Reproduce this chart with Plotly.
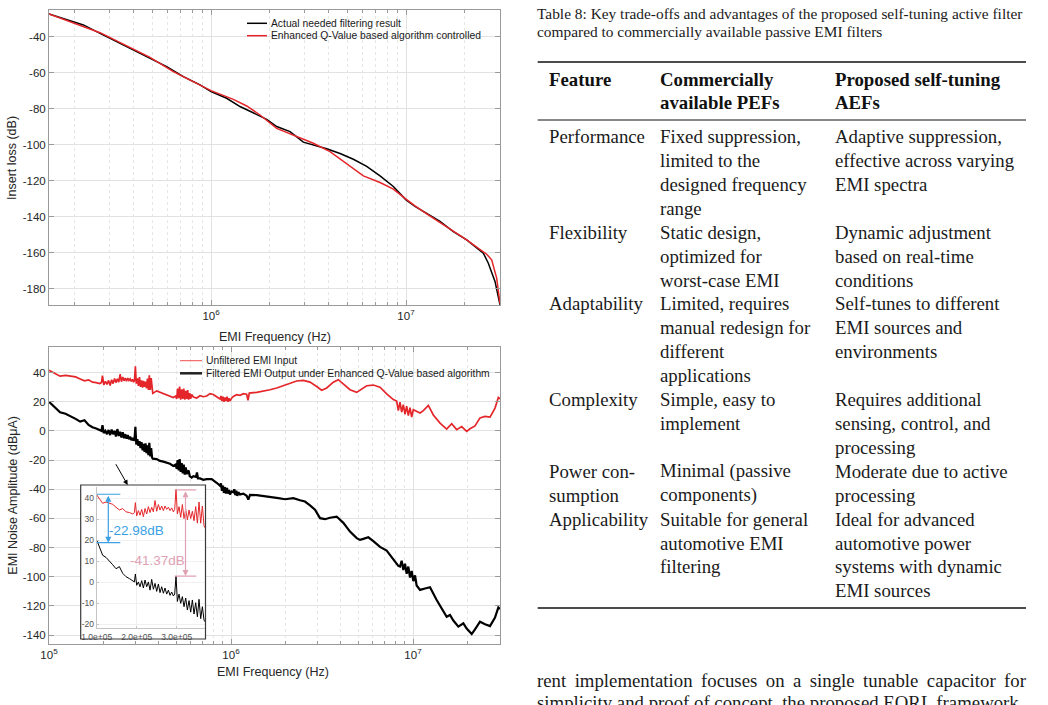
import math
import plotly.graph_objects as go

W, H = 1048, 705


def px(x):
    return x / W


def py(y):
    return 1 - y / H


# ---------------- Data: top plot (insertion loss) ----------------
top_black_freq = [147.6e3, 181.9e3, 221.4e3, 269.7e3, 328.2e3, 399.7e3, 486.6e3, 592.3e3, 721.3e3,
                  878.3e3, 1.0e6, 1.203e6, 1.408e6, 1.649e6, 1.930e6, 2.172e6, 2.542e6, 2.975e6,
                  3.349e6, 3.919e6, 4.587e6, 5.370e6, 6.285e6, 7.357e6, 8.610e6, 1.0e7, 1.112e7,
                  1.277e7, 1.494e7, 1.749e7, 2.047e7, 2.492e7, 2.643e7, 2.860e7, 3.034e7]
top_black_db = [-27.4, -30.4, -33.5, -38.2, -42.8, -47.8, -52.0, -56.6, -62.2, -66.8, -70.5, -74.2,
                -78.8, -82.2, -85.9, -89.9, -92.7, -98.6, -100.2, -102.2, -104.9, -108.1, -112.0,
                -117.3, -123.2, -130.6, -134.3, -138.0, -142.6, -148.2, -152.8, -160.2, -165.8,
                -175.9, -188.9]

top_red_freq = [147.6e3, 269.7e3, 486.6e3, 640.9e3, 1.0e6, 1.302e6, 1.524e6, 1.784e6, 2.172e6,
                2.644e6, 3.349e6, 4.076e6, 4.963e6, 6.043e6, 7.357e6, 8.610e6, 1.0e7, 1.112e7,
                1.277e7, 1.494e7, 1.749e7, 2.047e7, 2.592e7, 2.750e7, 2.917e7, 3.034e7]
top_red_db = [-27.4, -37.8, -51.5, -59.4, -70.0, -74.8, -78.5, -83.5, -90.9, -94.6, -99.2, -103.8,
              -110.3, -117.3, -121.0, -124.7, -130.2, -134.0, -138.4, -143.2, -148.2, -152.8,
              -160.8, -163.9, -174.1, -188.3]

# ---------------- Data: bottom plot, zoomed region (1e5 .. 3.72e5 Hz) ----------------
zoom_freq = [100.0e3, 106.7e3, 115.0e3, 123.3e3, 131.7e3, 140.0e3, 148.3e3, 156.7e3, 165.0e3,
             173.3e3, 181.7e3, 190.0e3, 194.2e3, 196.7e3, 200.0e3, 204.2e3, 208.3e3, 212.5e3,
             216.7e3, 220.8e3, 225.0e3, 229.2e3, 233.3e3, 237.5e3, 241.7e3, 245.8e3, 250.0e3,
             254.2e3, 258.3e3, 262.5e3, 266.7e3, 270.8e3, 275.0e3, 279.2e3, 283.3e3, 287.5e3,
             291.7e3, 295.0e3, 298.3e3, 301.7e3, 305.8e3, 310.0e3, 314.2e3, 318.3e3, 322.5e3,
             326.7e3, 330.8e3, 335.0e3, 339.2e3, 343.3e3, 347.5e3, 351.7e3, 355.8e3, 360.0e3,
             364.2e3, 368.3e3, 371.7e3]
zoom_red_db = [41.6, 40.0, 37.6, 38.2, 37.6, 37.1, 35.7, 34.4, 35.1, 33.5, 33.2, 32.5, 33.2, 37.9,
               31.6, 34.1, 31.9, 34.7, 31.2, 35.1, 32.5, 36.0, 33.2, 35.7, 33.5, 38.9, 33.8, 37.0,
               34.4, 36.3, 34.1, 36.3, 34.7, 35.7, 34.1, 35.4, 33.5, 34.7, 44.3, 32.5, 36.0, 30.9,
               37.0, 30.3, 34.7, 29.7, 34.4, 30.3, 33.8, 29.3, 36.0, 28.1, 38.2, 28.1, 36.3, 26.8,
               25.8]
zoom_black_db = [20.1, 16.6, 12.8, 11.8, 10.2, 8.3, 6.4, 7.4, 4.2, 2.6, 1.7, 0.7, 0.1, 3.9, -1.5,
                 0.1, -2.2, 0.7, -2.8, 1.0, -2.2, 0.1, -3.8, 1.3, -3.4, -0.6, -4.4, -0.9, -5.0,
                 -2.2, -5.3, -2.8, -5.7, -3.8, -6.3, -4.7, -6.6, -5.7, 2.9, -9.2, -5.7, -10.1,
                 -6.9, -11.7, -7.6, -13.3, -8.8, -14.3, -8.5, -15.2, -9.8, -16.5, -8.2, -17.4,
                 -11.7, -18.1, -19.0]

# ---------------- Data: bottom plot, remaining range (3.9e5 .. 3e7 Hz) ----------------
red_freq = [390.5e3, 407e3, 425e3, 443e3, 462e3, 482e3, 497e3, 503e3, 509e3, 516e3, 522e3, 529e3,
            536e3, 543e3, 550e3, 557e3, 564e3, 571e3, 578e3, 585e3, 593e3, 600e3, 608e3, 621e3,
            648e3, 676e3, 705e3, 735e3, 767e3, 800e3, 834e3, 870e3, 881e3, 892e3, 904e3, 915e3,
            927e3, 939e3, 951e3, 963e3, 975e3, 987e3, 1008e3, 1030e3, 1074e3, 1121e3, 1169e3,
            1219e3, 1240e3, 1261e3, 1384e3, 1506e3, 1638e3, 1782e3, 1939e3, 2110e3, 2295e3,
            2497e3, 2717e3, 2956e3, 3149e3, 3355e3, 3650e3, 3888e3, 4142e3, 4507e3, 4904e3,
            5224e3, 5565e3, 6053e3, 6587e3, 7166e3, 7797e3, 8133e3, 8306e3, 8483e3, 8664e3,
            8849e3, 9037e3, 9230e3, 9426e3, 9628e3, 9833e3, 1.004e7, 1.047e7, 1.093e7, 1.140e7,
            1.214e7, 1.293e7, 1.408e7, 1.531e7, 1.631e7, 1.738e7, 1.851e7, 1.972e7, 2.057e7,
            2.191e7, 2.334e7, 2.487e7, 2.649e7, 2.822e7, 2.944e7, 3.006e7]
red_db = [27.5, 26.5, 26.0, 25.0, 24.0, 23.0, 24.0, 22.0, 29.0, 22.5, 30.5, 21.5, 28.5, 22.0, 29.0,
          21.5, 27.5, 22.0, 28.0, 21.5, 26.0, 22.0, 25.0, 23.3, 22.6, 24.2, 23.5, 24.0, 25.6, 25.0,
          23.5, 22.0, 24.0, 20.5, 23.5, 20.0, 23.0, 20.5, 23.5, 20.0, 22.5, 20.5, 22.5, 23.7, 24.9,
          24.5, 25.6, 25.2, 21.0, 26.0, 26.5, 27.2, 28.3, 29.5, 31.1, 33.0, 34.3, 34.7, 33.5, 30.5,
          28.0, 29.5, 33.5, 35.2, 32.5, 28.3, 26.5, 29.0, 31.0, 31.5, 30.0, 25.5, 21.5, 20.5, 14.0,
          19.8, 13.0, 18.0, 11.5, 17.0, 10.5, 16.0, 9.5, 14.6, 13.5, 12.3, 14.0, 17.5, 11.0, 5.4,
          1.3, 5.0, 0.9, 3.0, -0.3, 1.5, 3.5, 9.0, 10.0, 9.5, 15.7, 23.0, 22.0]

black_freq = [390.5e3, 407e3, 425e3, 443e3, 462e3, 482e3, 497e3, 503e3, 509e3, 516e3, 522e3,
              529e3, 536e3, 543e3, 550e3, 557e3, 564e3, 571e3, 585e3, 593e3, 608e3, 621e3, 642e3,
              650e3, 659e3, 676e3, 705e3, 735e3, 783e3, 834e3, 870e3, 881e3, 892e3, 904e3, 915e3,
              927e3, 939e3, 951e3, 963e3, 975e3, 987e3, 1008e3, 1030e3, 1043e3, 1056e3, 1070e3,
              1083e3, 1097e3, 1121e3, 1169e3, 1219e3, 1245e3, 1272e3, 1384e3, 1506e3, 1673e3,
              1820e3, 1981e3, 2201e3, 2394e3, 2550e3, 2717e3, 2894e3, 3084e3, 3285e3, 3499e3,
              3807e3, 4142e3, 4507e3, 4904e3, 5115e3, 5336e3, 5683e3, 6053e3, 6587e3, 7166e3,
              7797e3, 8306e3, 8483e3, 8664e3, 8849e3, 9037e3, 9230e3, 9426e3, 9628e3, 9833e3,
              1.004e7, 1.026e7, 1.047e7, 1.093e7, 1.164e7, 1.240e7, 1.349e7, 1.437e7, 1.531e7,
              1.597e7, 1.666e7, 1.775e7, 1.891e7, 1.972e7, 2.101e7, 2.191e7, 2.334e7, 2.487e7,
              2.649e7, 2.822e7, 2.944e7, 3.006e7]
black_db = [-19.3, -20.5, -21.0, -21.6, -22.5, -24.0, -23.0, -26.0, -20.0, -27.0, -19.3, -28.0,
            -22.0, -29.0, -23.0, -30.0, -25.0, -29.5, -27.0, -31.0, -32.0, -31.0, -31.5, -28.5,
            -32.5, -32.5, -33.5, -33.0, -33.0, -35.5, -37.5, -36.0, -41.0, -37.5, -42.5, -38.5,
            -43.0, -39.0, -43.0, -40.5, -43.5, -41.5, -42.0, -40.0, -44.0, -41.0, -44.5, -42.0,
            -43.5, -43.0, -44.5, -47.0, -43.8, -44.0, -44.5, -45.4, -46.0, -46.8, -46.1, -47.5,
            -48.4, -51.0, -54.0, -59.8, -60.5, -59.5, -58.7, -63.0, -69.0, -73.5, -74.7, -74.0,
            -72.9, -75.5, -79.5, -82.0, -88.0, -92.5, -93.0, -89.0, -95.3, -91.0, -98.0, -93.0,
            -100.5, -96.0, -103.0, -99.0, -106.0, -109.0, -108.0, -107.2, -115.9, -122.0, -127.4,
            -126.2, -130.0, -134.2, -131.9, -135.5, -139.3, -136.0, -130.8, -132.5, -133.8,
            -128.0, -121.0, -122.0]

# annotated reductions in the inset (frequency, top value, bottom value)
gap1_freq, gap1_top, gap1_bottom = 1.29e5, 41.9, 18.8
gap2_freq, gap2_top, gap2_bottom = 3.22e5, 44.0, 2.9
gap1_label, gap2_label = "-22.98dB", "-41.37dB"

# tick labels
top_y_ticks = [-180, -160, -140, -120, -100, -80, -60, -40]
bot_y_ticks = [-140, -120, -100, -80, -60, -40, -20, 0, 20, 40]
inset_y_ticks = [-20, -10, 0, 10, 20, 30, 40]
inset_x_ticks = [1e5, 2e5, 3e5]
inset_x_text = ["1.0e+05", "2.0e+05", "3.0e+05"]

# ---------------- Table content ----------------
caption_lines = [
    "Table 8: Key trade-offs and advantages of the proposed self-tuning active filter",
    "compared to commercially available passive EMI filters",
]
header_cols = [["Feature"], ["Commercially", "available PEFs"], ["Proposed self-tuning", "AEFs"]]
table_rows = [
    (["Performance"], ["Fixed suppression,", "limited to the", "designed frequency", "range"],
     ["Adaptive suppression,", "effective across varying", "EMI spectra"]),
    (["Flexibility"], ["Static design,", "optimized for", "worst-case EMI"],
     ["Dynamic adjustment", "based on real-time", "conditions"]),
    (["Adaptability"], ["Limited, requires", "manual redesign for", "different", "applications"],
     ["Self-tunes to different", "EMI sources and", "environments"]),
    (["Complexity"], ["Simple, easy to", "implement"],
     ["Requires additional", "sensing, control, and", "processing"]),
    (["Power con-", "sumption"], ["Minimal (passive", "components)"],
     ["Moderate due to active", "processing"]),
    (["Applicability"], ["Suitable for general", "automotive EMI", "filtering"],
     ["Ideal for advanced", "automotive power", "systems with dynamic", "EMI sources"]),
]
body_lines = [
    "rent implementation focuses on a single tunable capacitor for",
    "simplicity and proof of concept, the proposed EQRL framework",
]

# ---------------- Figure ----------------
RED = "#e4262a"
SANS = "Liberation Sans, Arial, sans-serif"
SERIF = "Liberation Serif, Times New Roman, serif"
AX = "#9a9a9a"

fig = go.Figure()
fig.add_trace(go.Scatter(x=top_black_freq, y=top_black_db, mode="lines", xaxis="x", yaxis="y",
                         line=dict(color="#000000", width=1.5), name="Actual needed filtering result"))
fig.add_trace(go.Scatter(x=top_red_freq, y=top_red_db, mode="lines", xaxis="x", yaxis="y",
                         line=dict(color=RED, width=1.5),
                         name="Enhanced Q-Value based algorithm controlled"))
fig.add_trace(go.Scatter(x=zoom_freq + red_freq, y=zoom_red_db + red_db, mode="lines",
                         xaxis="x2", yaxis="y2", line=dict(color=RED, width=1.7),
                         name="Unfiltered EMI Input"))
fig.add_trace(go.Scatter(x=zoom_freq + black_freq, y=zoom_black_db + black_db, mode="lines",
                         xaxis="x2", yaxis="y2", line=dict(color="#000000", width=2.2),
                         name="Filtered EMI Output under Enhanced Q-Value based algorithm"))
# white backing of the inset
fig.add_trace(go.Scatter(x=[None], y=[None], xaxis="x3", yaxis="y3", hoverinfo="skip"))
fig.add_trace(go.Scatter(x=zoom_freq, y=zoom_red_db, mode="lines", xaxis="x4", yaxis="y4",
                         line=dict(color=RED, width=1)))
fig.add_trace(go.Scatter(x=zoom_freq, y=zoom_black_db, mode="lines", xaxis="x4", yaxis="y4",
                         line=dict(color="#000000", width=1)))

minor_vals = [m * 10 ** e for e in (5, 6) for m in range(2, 10)] + [2e7, 3e7]


def fmt(v):
    return ("-%g" % abs(v)) if v < 0 else "%g" % v


def main_axis(**kw):
    d = dict(showline=True, linecolor=AX, linewidth=1, mirror="ticks", ticks="inside",
             ticklen=5, tickcolor=AX, showgrid=True, gridcolor="#e2e2e2", gridwidth=1,
             zeroline=False, automargin=False,
             tickfont=dict(family=SANS, size=11.5, color="#262626"))
    d.update(kw)
    return d


def log_x(domain, anchor, rng, vals):
    return main_axis(type="log", domain=domain, anchor=anchor, range=rng, tickmode="array",
                     tickvals=vals, ticktext=["10<sup>%d</sup>" % round(math.log10(v)) for v in vals],
                     minor=dict(tickmode="array", tickvals=minor_vals, ticks="inside", ticklen=3,
                                tickcolor=AX, showgrid=True, gridcolor="#e6e6e6", griddash="dot",
                                gridwidth=1))


def lin_y(domain, anchor, rng, vals):
    return main_axis(domain=domain, anchor=anchor, range=rng, tickmode="array", tickvals=vals,
                     ticktext=[fmt(v) for v in vals])


top_dom_y = [py(305), py(10)]
bot_dom_y = [py(644), py(347)]
main_dom_x = [px(49), px(500)]

inset_common = dict(showline=True, linecolor="#c4c4c4", ticks="inside", ticklen=2,
                    tickcolor="#c4c4c4", showgrid=True, gridcolor="#f0f0f0", zeroline=False,
                    automargin=False, tickfont=dict(family=SANS, size=8.5, color="#505050"))

fig.update_layout(
    width=W, height=H, margin=dict(l=0, r=0, t=0, b=0, autoexpand=False),
    paper_bgcolor="white", plot_bgcolor="white", showlegend=False,
    font=dict(family=SANS, color="#262626"),
    xaxis=log_x(main_dom_x, "y", [math.log10(1.476e5), math.log10(3.034e7)], [1e6, 1e7]),
    yaxis=lin_y(top_dom_y, "x", [-189, -25.2], top_y_ticks),
    xaxis2=log_x(main_dom_x, "y2", [5, math.log10(3.006e7)], [1e5, 1e6, 1e7]),
    yaxis2=lin_y(bot_dom_y, "x2", [-146.1, 57.6], bot_y_ticks),
    xaxis3=dict(domain=[px(80.7), px(205.5)], anchor="y3", visible=False),
    yaxis3=dict(domain=[py(639), py(485)], anchor="x3", visible=False),
    xaxis4=dict(domain=[px(96.7), px(205.5)], anchor="y4", range=[1e5, 3.72e5], tickmode="array",
                tickvals=inset_x_ticks, ticktext=inset_x_text, **inset_common),
    yaxis4=dict(domain=[py(628.3), py(486.7)], anchor="x4", range=[-22, 45.5], tickmode="array",
                tickvals=inset_y_ticks, ticktext=[fmt(v) for v in inset_y_ticks], **inset_common),
)

shapes = []
annotations = []

# zoom rectangle on the main bottom plot
shapes.append(dict(type="rect", xref="x2", yref="y2", x0=math.log10(zoom_freq[0] * 1.035),
                   x1=math.log10(zoom_freq[-1]), y0=-21.6, y1=47.1, layer="below",
                   line=dict(color="#2e3f50", width=1.5), fillcolor="rgba(225,225,225,0.25)"))
# inset frame
shapes.append(dict(type="rect", xref="paper", yref="paper", x0=px(80.7), x1=px(205.5),
                   y0=py(639), y1=py(485), line=dict(color="#3a3a3a", width=1.2), layer="above"))
# arrow from zoom box to inset
annotations.append(dict(xref="paper", yref="paper", x=px(127.7), y=py(485), ax=-12.7, ay=-22.3,
                        axref="pixel", ayref="pixel", text="", showarrow=True, arrowhead=2,
                        arrowsize=1, arrowwidth=1, arrowcolor="#000000", standoff=0))

# inset dimension arrows
BLUE, PINK = "#3a9fe3", "#e0a1b3"
for f, top, bot, col, c0, c1 in [(gap1_freq, gap1_top, gap1_bottom, BLUE, 1.0e5, 1.59e5),
                                  (gap2_freq, gap2_top, gap2_bottom, PINK, 2.95e5, 3.49e5)]:
    annotations.append(dict(xref="x4", yref="y4", x=f, y=bot, axref="x4", ayref="y4", ax=f, ay=top,
                            text="", showarrow=True, arrowhead=2, startarrowhead=2,
                            arrowside="end+start", arrowsize=1, arrowwidth=1.2, arrowcolor=col,
                            standoff=0, startstandoff=0))
    for yv in (top, bot):
        shapes.append(dict(type="line", xref="x4", yref="y4", x0=c0, x1=c1, y0=yv, y1=yv,
                           line=dict(color=col, width=1.2), layer="above"))
annotations.append(dict(xref="x4", yref="y4", x=1.99e5, y=24.5, text=gap1_label, showarrow=False,
                        font=dict(family=SANS, size=13.5, color=BLUE)))
annotations.append(dict(xref="x4", yref="y4", x=2.51e5, y=10.5, text=gap2_label, showarrow=False,
                        font=dict(family=SANS, size=13.5, color=PINK)))

# manual legends
legend_items = [
    (247, 267, 23.3, "#000000", 1.5, fig.data[0].name),
    (247, 267, 35.7, RED, 1.5, fig.data[1].name),
    (180, 202, 360.7, "#f05050", 1, fig.data[2].name),
    (180, 202, 373.3, "#222222", 2.5, fig.data[3].name),
]
for x0, x1, yy, col, wd, name in legend_items:
    shapes.append(dict(type="line", xref="paper", yref="paper", x0=px(x0), x1=px(x1), y0=py(yy),
                       y1=py(yy), line=dict(color=col, width=wd), layer="above"))
    annotations.append(dict(xref="paper", yref="paper", x=px(x1 + 1.5), y=py(yy), xanchor="left",
                            yanchor="middle", text=name, showarrow=False,
                            font=dict(family=SANS, size=10.3, color="#1a1a1a")))

# axis titles
for x, y, txt, ang in [(12, 158, "Insert loss (dB)", -90), (275, 336.5, "EMI Frequency (Hz)", 0),
                       (12.7, 495, "EMI Noise Amplitude (dBμA)", -90),
                       (273, 671.5, "EMI Frequency (Hz)", 0)]:
    annotations.append(dict(xref="paper", yref="paper", x=px(x), y=py(y), text=txt,
                            textangle=ang, showarrow=False, xanchor="center", yanchor="middle",
                            font=dict(family=SANS, size=12.5, color="#262626")))

# table
TX = 537.7
PAD = 2.3  # annotation box padding
for i, line in enumerate(caption_lines):
    annotations.append(dict(xref="paper", yref="paper", x=px(TX - PAD), y=py(13 + 18.7 * i),
                            xanchor="left", yanchor="middle", text=line, showarrow=False,
                            font=dict(family=SERIF, size=15.4, color="#1a1a1a")))
for yy, wd in [(62, 1.6), (120, 1.0), (608, 1.6)]:
    shapes.append(dict(type="line", xref="paper", yref="paper", x0=px(TX), x1=px(1026),
                       y0=py(yy), y1=py(yy), line=dict(color="#111111", width=wd)))
col_x = [549.3, 660.7, 835.0]
for c, lines in enumerate(header_cols):
    for k, t in enumerate(lines):
        annotations.append(dict(xref="paper", yref="paper", x=px(col_x[c] - PAD),
                                y=py(79 + 23.7 * k), xanchor="left", yanchor="middle",
                                text="<b>%s</b>" % t, showarrow=False,
                                font=dict(family=SERIF, size=18.8, color="#111111")))
LINE0, STEP = 136.7, 23.9
row_start = 0
for row in table_rows:
    n = max(len(c) for c in row)
    for c, lines in enumerate(row):
        for k, t in enumerate(lines):
            annotations.append(dict(xref="paper", yref="paper", x=px(col_x[c] - PAD),
                                    y=py(LINE0 + STEP * (row_start + k)), xanchor="left",
                                    yanchor="middle", text=t, showarrow=False,
                                    font=dict(family=SERIF, size=18.8, color="#1a1a1a")))
    row_start += n
for i, line in enumerate(body_lines):
    txt = line.replace(" ", " \u2009") if i == 0 else line  # justified first line
    annotations.append(dict(xref="paper", yref="paper", x=px(TX - PAD), y=py(680 + 22.5 * i),
                            xanchor="left", yanchor="middle", text=txt, showarrow=False,
                            font=dict(family=SERIF, size=18.8, color="#1a1a1a")))

fig.update_layout(shapes=shapes, annotations=annotations)
fig.write_html("out.html")
